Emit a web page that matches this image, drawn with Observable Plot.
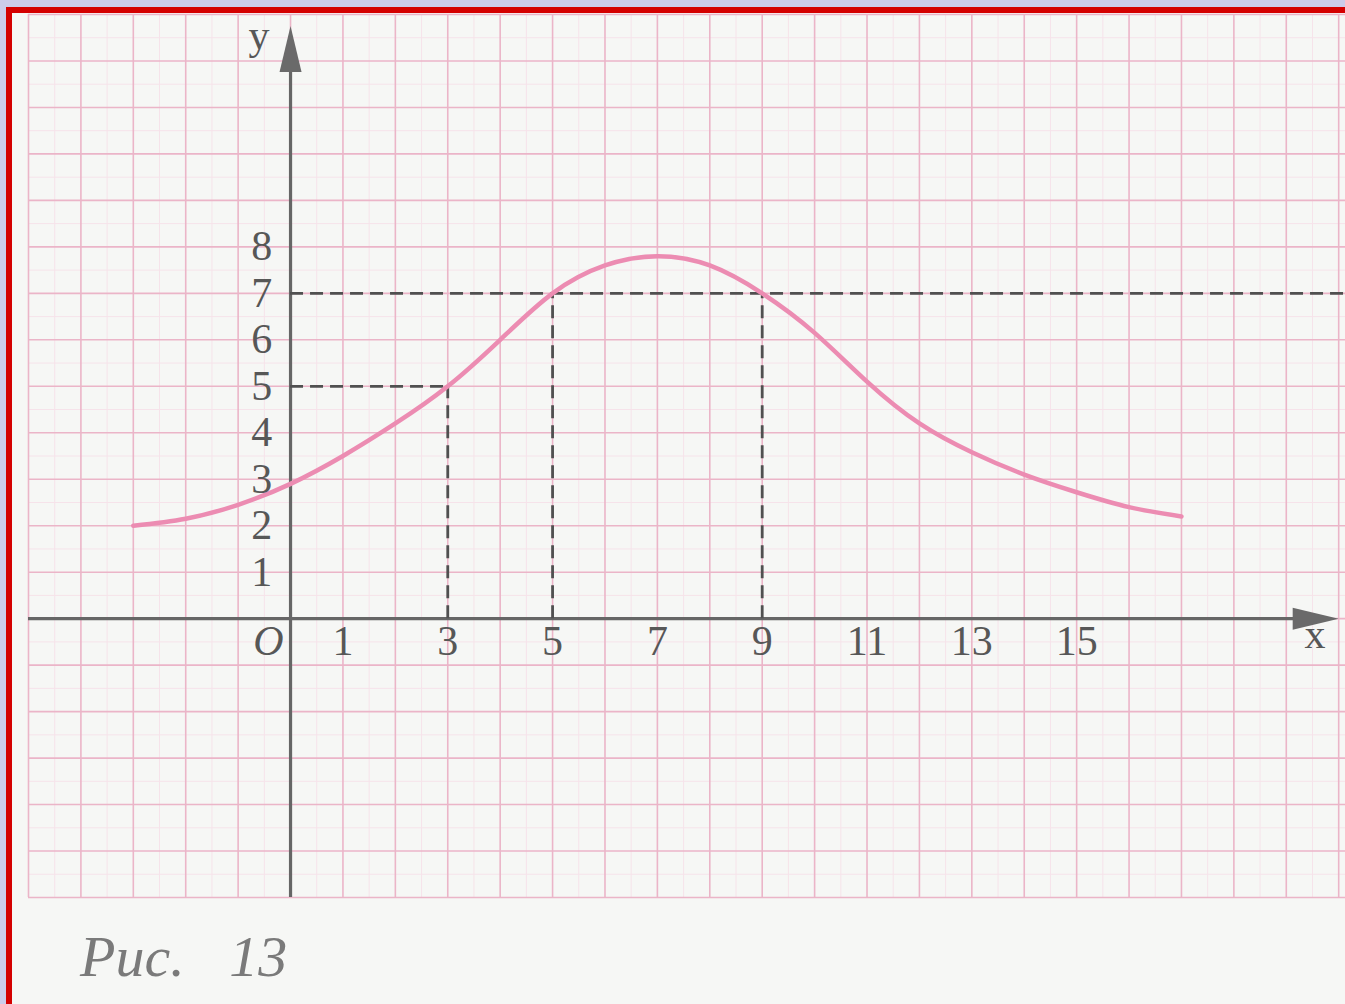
<!DOCTYPE html>
<html>
<head>
<meta charset="utf-8">
<script src="https://cdn.jsdelivr.net/npm/d3@7"></script>
<script src="https://cdn.jsdelivr.net/npm/@observablehq/plot@0.6"></script>
<style>
  html, body { margin: 0; padding: 0; }
  body { width: 1345px; height: 1004px; overflow: hidden; background: #ccccea; position: relative; }
  #paper { position: absolute; left: 6px; top: 7px; width: 1345px; height: 1004px;
           border-top: 6px solid #d40000; border-left: 6px solid #d40000; background: #f6f7f5; box-sizing: border-box; }
  #chart { position: absolute; left: 0; top: 0; }
  #caption { position: absolute; left: 80px; top: 928px; font-family: "Liberation Serif", "DejaVu Serif", serif;
             font-style: italic; font-size: 58px; line-height: 58px; color: #7a7a7a; word-spacing: 30px; }
</style>
</head>
<body>
<div id="paper"></div>
<div id="chart"></div>
<div id="caption">Рис. 13</div>
<script>
// Curve of the function
const curveX = [-3, -2, -1, 0, 1, 2, 3, 4, 5, 6, 7, 8, 9, 10, 11, 12, 13, 14, 15, 16, 17];
const curveY = [2.0, 2.15, 2.45, 2.9, 3.5, 4.2, 5.0, 6.0, 7.0, 7.6, 7.8, 7.6, 7.0, 6.15, 5.1, 4.2, 3.58, 3.1, 2.72, 2.4, 2.2];

// Tick labels
const xTickValues = [1, 3, 5, 7, 9, 11, 13, 15];
const yTickValues = [1, 2, 3, 4, 5, 6, 7, 8];

// Dashed helper lines
const dashHorizontal = [{y: 7, x1: 0, x2: 20.2}, {y: 5, x1: 0, x2: 3}];
const dashVertical = [{x: 3, y1: 0, y2: 5}, {x: 5, y1: 0, y2: 7}, {x: 9, y1: 0, y2: 7}];

// Extent of the squared paper and axes
const xDomain = [-5, 20.13];
const yDomain = [-6, 13];
const axisXEnd = 20.0;
const axisYEnd = 12.75;

const data = curveX.map((x, i) => ({x, y: curveY[i]}));

const arrowSymbol = {
  draw(ctx) {
    ctx.moveTo(0, 0);
    ctx.lineTo(11, 46);
    ctx.lineTo(-11, 46);
    ctx.closePath();
  }
};

const serif = "Liberation Serif, DejaVu Serif, serif";
const ink = "#575757";
const gridMajor = "#ebb5c8";
const gridMinor = "#f6e3ea";

const chart = Plot.plot({
  width: 1345,
  height: 905,
  marginLeft: 28,
  marginRight: 0,
  marginTop: 14,
  marginBottom: 8,
  x: {domain: xDomain, axis: null},
  y: {domain: yDomain, axis: null},
  style: {background: "transparent", overflow: "visible"},
  marks: [
    // minor grid
    Plot.ruleX(d3.range(xDomain[0] + 0.5, xDomain[1], 1), {y1: yDomain[0], y2: yDomain[1], stroke: gridMinor, strokeWidth: 1}),
    Plot.ruleY(d3.range(yDomain[0] + 0.5, yDomain[1], 1), {x1: xDomain[0], x2: xDomain[1], stroke: gridMinor, strokeWidth: 1}),
    // major grid
    Plot.ruleX(d3.range(xDomain[0], xDomain[1], 1), {y1: yDomain[0], y2: yDomain[1], stroke: gridMajor, strokeWidth: 1.6}),
    Plot.ruleY(d3.range(yDomain[0], yDomain[1] + 0.01, 1), {x1: xDomain[0], x2: xDomain[1], stroke: gridMajor, strokeWidth: 1.6}),
    // axes
    Plot.ruleY([0], {x1: xDomain[0], x2: axisXEnd - 0.5, stroke: "#666", strokeWidth: 3.2}),
    Plot.ruleX([0], {y1: yDomain[0], y2: axisYEnd - 0.5, stroke: "#666", strokeWidth: 3.2}),
    Plot.dot([0], {x: axisXEnd, y: 0, symbol: arrowSymbol, rotate: 90, fill: "#6a6a6a", stroke: "none"}),
    Plot.dot([0], {x: 0, y: axisYEnd, symbol: arrowSymbol, fill: "#6a6a6a", stroke: "none"}),
    // dashed helper lines
    Plot.ruleY(dashHorizontal, {y: "y", x1: "x1", x2: "x2", stroke: "#505050", strokeWidth: 2.8, strokeDasharray: "13,7"}),
    Plot.ruleX(dashVertical, {x: "x", y1: "y1", y2: "y2", stroke: "#505050", strokeWidth: 2.8, strokeDasharray: "13,7"}),
    // curve
    Plot.line(data, {x: "x", y: "y", curve: "natural", stroke: "#ec8cb2", strokeWidth: 4.5}),
    // tick labels
    Plot.text(xTickValues, {x: d => d, y: -0.5, text: d => String(d), fontSize: 42, fontFamily: serif, fill: ink}),
    Plot.text(yTickValues, {x: -0.55, y: d => d, text: d => String(d), fontSize: 42, fontFamily: serif, fill: ink}),
    Plot.text(["O"], {x: -0.42, y: -0.5, text: d => d, fontSize: 42, fontFamily: serif, fontStyle: "italic", fill: ink}),
    Plot.text(["x"], {x: 19.55, y: -0.35, text: d => d, fontSize: 42, fontFamily: serif, fill: ink}),
    Plot.text(["y"], {x: -0.6, y: 12.55, text: d => d, fontSize: 42, fontFamily: serif, fill: ink})
  ]
});
document.getElementById("chart").appendChild(chart);
</script>
</body>
</html>
